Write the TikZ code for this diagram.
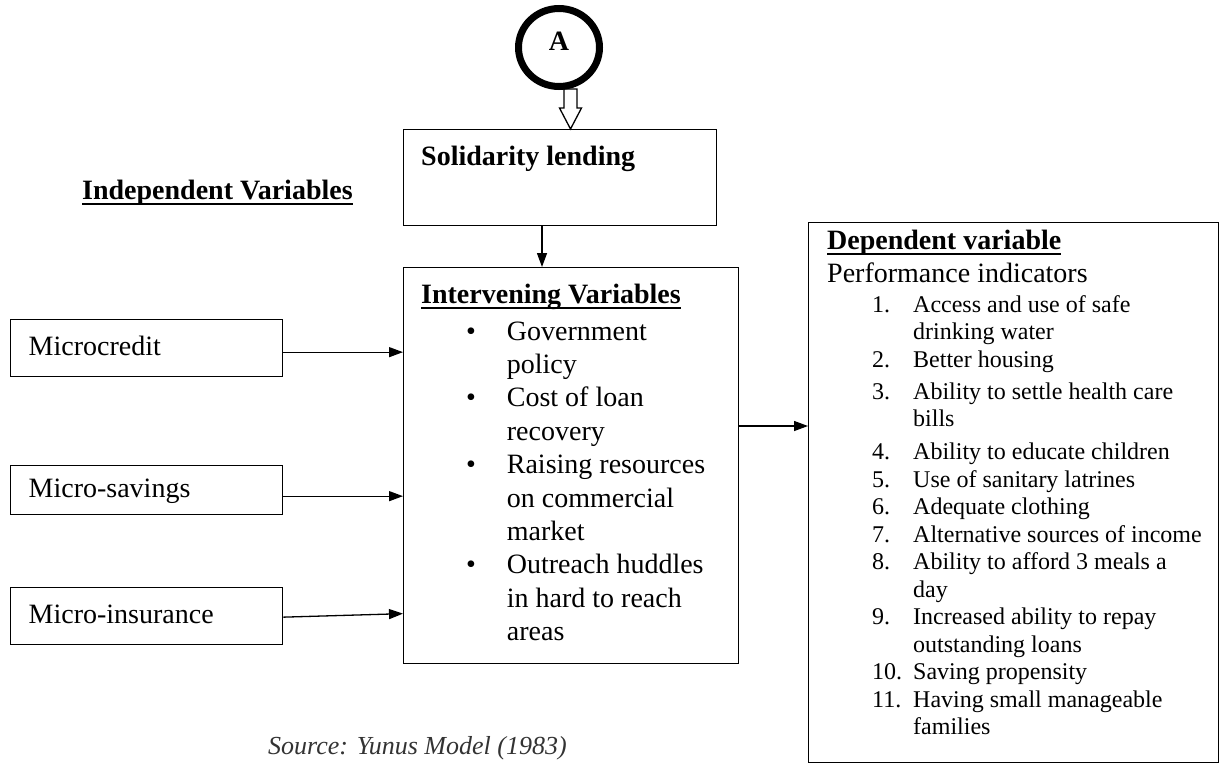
\documentclass[tikz,border=0pt]{standalone}
\usepackage{fontspec}
\setmainfont{Liberation Serif}
\usetikzlibrary{arrows.meta,calc,shapes.geometric}

\newsavebox{\ulbox}
\newcommand{\ulword}[1]{\sbox{\ulbox}{#1}\usebox{\ulbox}\llap{\rule[-5.5pt]{\wd\ulbox}{1.8pt}}}

\begin{document}
\begin{tikzpicture}[x=1pt, y=-1pt,
  box/.style={draw, line width=1.3pt, anchor=north west, inner sep=0pt},
  varbox/.style={box, minimum width=272pt, text width=236pt, inner xsep=18pt, align=left, text height=19pt, text depth=5pt, font=\fontsize{28}{33}\selectfont},
  headtxt/.style={anchor=base west, inner sep=0pt, font=\fontsize{28}{33}\selectfont\bfseries},
  listtxt/.style={anchor=base west, inner sep=0pt},
  arr/.style={-{Triangle[length=14pt,width=10pt]}, line width=1.3pt}
]
  \useasboundingbox (0,0) rectangle (1221,763);

  \node[varbox, minimum height=57pt] (mcr) at (10,319) {Microcredit};
  \node[varbox, minimum height=49pt] (sav) at (10,465) {Micro-savings};
  \node[varbox, minimum height=57pt] (ins) at (10,587) {Micro-insurance};

  \node[box, minimum width=313pt, minimum height=96pt] (sol) at (403,129) {};
  \node[box, minimum width=335pt, minimum height=396pt] (int) at (403,267) {};
  \node[box, minimum width=410pt, minimum height=540pt] (dep) at (808,222) {};

  % open arrow from A
  \coordinate (aline) at (570.5,0);
  \coordinate (atip) at (sol.north -| aline);
  \draw[line width=1.3pt] (atip) -- ++(-11,-21) -- ++(4.5,0) -- ++(0,-19) -- ++(13,0) -- ++(0,19) -- ++(4.5,0) -- cycle;

  \node[draw, ellipse, line width=7pt, minimum width=81pt, minimum height=78pt, inner sep=0pt, text depth=12pt, font=\fontsize{28}{33}\selectfont\bfseries] (A) at (559,47.5) {A};

  \node[headtxt] (indep) at (82,199) {\ulword{Independent Variables}};
  \node[headtxt] (soltxt) at (421,165) {Solidarity lending};

  \node[headtxt] (inthead) at (421,303.5) {\ulword{Intervening Variables}};
  \node[listtxt, font=\fontsize{28}{33.4}\selectfont] (intlist) at (466,340) {%
    \begin{tabular}[t]{@{}p{40.7pt}@{}l@{}}
      \textbullet & Government\\
                  & policy\\
      \textbullet & Cost of loan\\
                  & recovery\\
      \textbullet & Raising resources\\
                  & on commercial\\
                  & market\\
      \textbullet & Outreach huddles\\
                  & in hard to reach\\
                  & areas
    \end{tabular}};

  \node[headtxt] (dephead) at (827,249) {\ulword{Dependent variable}};
  \node[listtxt, font=\fontsize{28}{33}\selectfont] (perf) at (827,282) {Performance indicators};
  \node[listtxt, font=\fontsize{24}{27.5}\selectfont] (deplist) at (872,312) {%
    \begin{tabular}[t]{@{}p{41pt}@{}l@{}}
      1.  & Access and use of safe\\
          & drinking water\\
      2.  & Better housing\\[4.5pt]
      3.  & Ability to settle health care\\
          & bills\\[5.5pt]
      4.  & Ability to educate children\\
      5.  & Use of sanitary latrines\\
      6.  & Adequate clothing\\
      7.  & Alternative sources of income\\
      8.  & Ability to afford 3 meals a\\
          & day\\
      9.  & Increased ability to repay\\
          & outstanding loans\\
      10. & Saving propensity\\
      11. & Having small manageable\\
          & families
    \end{tabular}};

  \node[listtxt, font=\fontsize{26}{30}\selectfont\itshape, text=black!80] (src) at (268,754) {Source: Yunus Model (1983)};

  \coordinate (sline) at (542,0);
  \coordinate (dline) at (0,426);
  \draw[arr] (sol.south -| sline) -- (int.north -| sline);
  \draw[arr] ($(mcr.east)+(0,4)$) -- ($(mcr.east -| int.west)+(0,4)$);
  \draw[arr] ($(sav.east)+(0,6)$) -- ($(sav.east -| int.west)+(0,6)$);
  \draw[arr] ($(ins.east)+(0,1)$) -- ($(ins.east -| int.west)+(0,-2.5)$);
  \draw[arr] (int.east |- dline) -- (dep.west |- dline);
\end{tikzpicture}
\end{document}
